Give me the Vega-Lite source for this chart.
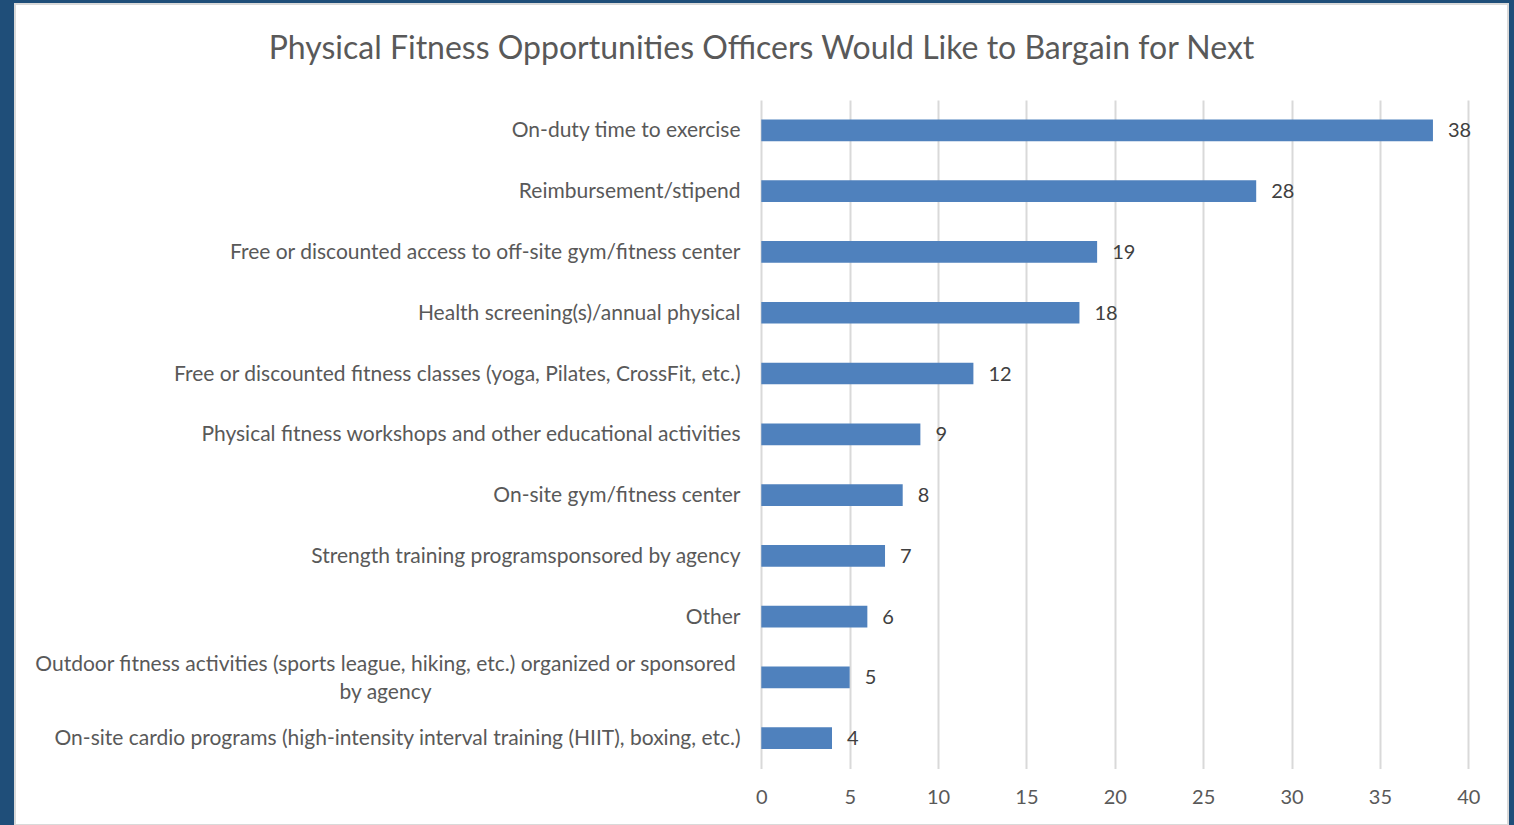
{
  "$schema": "https://vega.github.io/schema/vega-lite/v6.json",
  "width": 1493,
  "height": 821,
  "autosize": "none",
  "padding": {"left": 15, "top": 4, "right": 6, "bottom": 0},
  "background": "#1F4E79",
  "title": {
    "text": "Physical Fitness Opportunities Officers Would Like to Bargain for Next",
    "anchor": "middle",
    "frame": "group",
    "orient": "top",
    "offset": -77,
    "baseline": "middle",
    "font": "Lato",
    "fontSize": 32,
    "fontWeight": "normal",
    "color": "#595959"
  },
  "data": {
    "values": [
      {"category": "On-duty time to exercise", "value": 38},
      {"category": "Reimbursement/stipend ", "value": 28},
      {"category": "Free or discounted access to off-site gym/fitness center", "value": 19},
      {"category": "Health screening(s)/annual physical", "value": 18},
      {"category": "Free or discounted fitness classes (yoga, Pilates, CrossFit, etc.)", "value": 12},
      {"category": "Physical fitness workshops and other educational activities ", "value": 9},
      {"category": "On-site gym/fitness center", "value": 8},
      {"category": "Strength training programsponsored by agency", "value": 7},
      {"category": "Other", "value": 6},
      {"category": "Outdoor fitness activities (sports league, hiking, etc.) organized or sponsored by agency", "value": 5},
      {"category": "On-site cardio programs (high-intensity interval training (HIIT), boxing, etc.)", "value": 4}
    ]
  },
  "encoding": {
    "y": {
      "field": "category",
      "type": "nominal",
      "sort": {"field": "value", "order": "descending"},
      "scale": {"range": [96, 764.6], "paddingInner": 0.643, "paddingOuter": 0.3215},
      "axis": {
        "title": null,
        "orient": "left",
        "offset": -746,
        "domain": false,
        "ticks": false,
        "grid": false,
        "labelFont": "Lato",
        "labelFontSize": 21,
        "labelColor": "#595959",
        "labelLimit": 0,
        "labelLineHeight": 28,
        "labelExpr": "datum.value == 'Outdoor fitness activities (sports league, hiking, etc.) organized or sponsored by agency' ? ['Outdoor fitness activities (sports league, hiking, etc.) organized or sponsored', 'by agency'] : datum.label",
        "labelAlign": {"condition": {"test": "datum.value == 'Outdoor fitness activities (sports league, hiking, etc.) organized or sponsored by agency'", "value": "center"}, "value": "right"},
        "labelPadding": {"condition": {"test": "datum.value == 'Outdoor fitness activities (sports league, hiking, etc.) organized or sponsored by agency'", "value": 376}, "value": 21},
        "labelOffset": {"condition": {"test": "datum.value == 'Outdoor fitness activities (sports league, hiking, etc.) organized or sponsored by agency'", "value": -12}, "value": 1}
      }
    },
    "x": {
      "field": "value",
      "type": "quantitative",
      "scale": {"domain": [0, 40], "range": [746.3, 1453.3], "nice": false},
      "axis": {
        "title": null,
        "orient": "top",
        "offset": -803,
        "values": [0, 5, 10, 15, 20, 25, 30, 35, 40],
        "grid": true,
        "gridColor": "#D9D9D9",
        "gridWidth": 2,
        "domain": false,
        "ticks": false,
        "labelFlush": false,
        "labelPadding": 10,
        "labelBaseline": "middle",
        "labelFont": "Lato",
        "labelFontSize": 20,
        "labelColor": "#595959"
      }
    }
  },
  "layer": [
    {"mark": {"type": "bar", "color": "#4F81BD"}},
    {
      "mark": {"type": "text", "align": "left", "baseline": "middle", "dx": 15, "dy": 1, "font": "Lato", "fontSize": 20, "color": "#404040"},
      "encoding": {"text": {"field": "value", "type": "quantitative"}}
    }
  ],
  "config": {"view": {"fill": "white", "stroke": "#D9D9D9", "strokeWidth": 2}}
}
